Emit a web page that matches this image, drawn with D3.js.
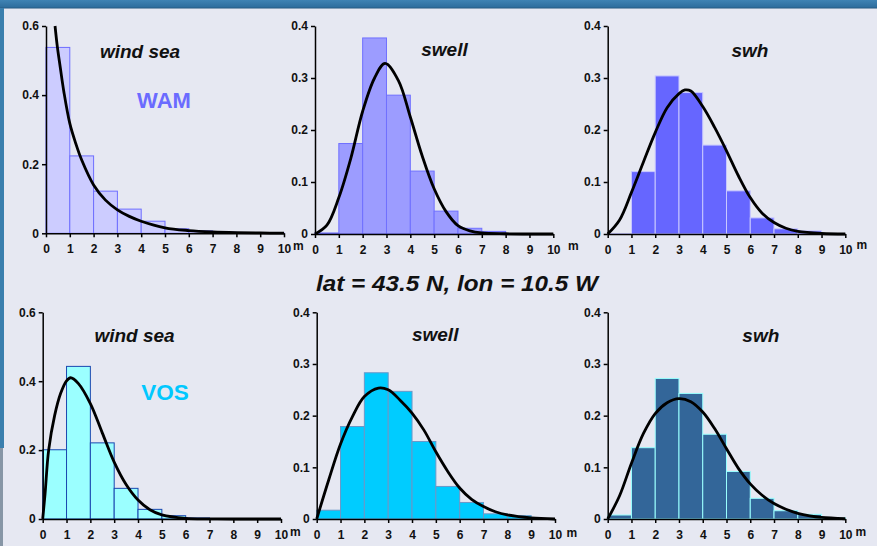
<!DOCTYPE html>
<html>
<head>
<meta charset="utf-8">
<script src="https://cdn.jsdelivr.net/npm/d3@7"></script>
<style>
  html, body { margin: 0; padding: 0; background: #e6e8f2; }
  svg { display: block; font-family: "Liberation Sans", Arial, sans-serif; }
  .axis text { font-weight: bold; font-size: 12px; fill: #111; }
  .axis path, .axis line { stroke: #000; stroke-width: 1.5px; }
  .fit { fill: none; stroke: #000; stroke-width: 2.8px; stroke-linejoin: round; }
  .ptitle { font-weight: bold; font-style: italic; font-size: 19px; fill: #111; }
  .unit { font-weight: bold; font-size: 12px; fill: #111; }
</style>
</head>
<body>
<svg id="chart" width="877" height="546"></svg>
<script>
// bins in metres
const binStarts = [0, 1, 2, 3, 4, 5, 6, 7, 8, 9];
const xTicks = [0, 1, 2, 3, 4, 5, 6, 7, 8, 9, 10];
const yTicksWind = [0, 0.2, 0.4, 0.6];
const yTicksOther = [0, 0.1, 0.2, 0.3, 0.4];

// WAM histograms
const windSeaWam = [0.538, 0.224, 0.122, 0.070, 0.035, 0.013, 0.007, 0.003, 0.002, 0.001];
const swellWam = [0.002, 0.174, 0.377, 0.267, 0.121, 0.044, 0.011, 0.005, 0, 0];
const swhWam = [0.001, 0.120, 0.304, 0.272, 0.171, 0.083, 0.031, 0.010, 0.006, 0];

// VOS histograms
const windSeaVos = [0.201, 0.443, 0.221, 0.089, 0.028, 0.0096, 0.003, 0.001, 0, 0];
const swellVos = [0.017, 0.179, 0.283, 0.247, 0.150, 0.063, 0.032, 0.010, 0.0065, 0];
const swhVos = [0.0077, 0.138, 0.272, 0.243, 0.164, 0.092, 0.040, 0.016, 0.009, 0.002];

// fitted curves
const fitWindSeaWamX = [0.38, 0.48, 0.6, 0.75, 1, 1.25, 1.5, 2, 2.5, 3, 3.5, 4, 5, 6, 7, 8, 9, 10];
const fitWindSeaWamY = [0.6, 0.538, 0.48, 0.41, 0.318, 0.26, 0.212, 0.14, 0.096, 0.068, 0.049, 0.035, 0.016, 0.008, 0.004, 0.002, 0.001, 0.0005];
const fitSwellWamX = [0, 0.5, 1, 1.5, 2, 2.5, 2.94, 3.5, 4, 4.5, 5, 5.5, 6, 6.5, 7, 8, 9, 10];
const fitSwellWamY = [0, 0.017, 0.07, 0.145, 0.236, 0.3, 0.328, 0.295, 0.225, 0.15, 0.087, 0.043, 0.016, 0.006, 0.002, 0.0005, 0, 0];
const fitSwhWamX = [0, 0.5, 1, 1.5, 2, 2.5, 3, 3.25, 3.5, 4, 4.5, 5, 5.5, 6, 6.5, 7, 7.5, 8, 9, 10];
const fitSwhWamY = [0, 0.027, 0.08, 0.138, 0.195, 0.243, 0.27, 0.277, 0.275, 0.245, 0.205, 0.16, 0.112, 0.07, 0.04, 0.022, 0.011, 0.005, 0.001, 0];

const fitWindSeaVosX = [0, 0.1, 0.25, 0.5, 0.75, 1, 1.17, 1.5, 2, 2.5, 3, 3.5, 4, 4.5, 5, 6, 7, 8, 10];
const fitWindSeaVosY = [0, 0.074, 0.2, 0.3, 0.364, 0.401, 0.41, 0.393, 0.335, 0.25, 0.165, 0.1, 0.055, 0.027, 0.012, 0.002, 0.0005, 0, 0];
const fitSwellVosX = [0, 0.5, 1, 1.5, 2, 2.59, 3, 3.5, 4, 4.5, 5, 5.5, 6, 6.5, 7, 7.5, 8, 9, 10];
const fitSwellVosY = [0, 0.075, 0.145, 0.198, 0.237, 0.2535, 0.25, 0.23, 0.205, 0.172, 0.13, 0.092, 0.06, 0.038, 0.024, 0.014, 0.008, 0.002, 0];
const fitSwhVosX = [0, 0.5, 1, 1.5, 2, 2.5, 3, 3.5, 4, 4.5, 5, 5.5, 6, 6.5, 7, 7.5, 8, 8.5, 9, 10];
const fitSwhVosY = [0, 0.045, 0.108, 0.165, 0.204, 0.225, 0.233, 0.227, 0.207, 0.175, 0.136, 0.098, 0.068, 0.046, 0.03, 0.019, 0.011, 0.006, 0.003, 0.0005];

const panelTitles = ['wind sea', 'swell', 'swh'];
const mainTitle = 'lat = 43.5 N, lon = 10.5 W';

const panels = [
  { left: 46, right: 284, bottom: 233.3, top: 26, yMax: 0.6, yTicks: yTicksWind, bars: windSeaWam, fx: fitWindSeaWamX, fy: fitWindSeaWamY,
    fill: '#ccccff', stroke: '#6e6eff', title: panelTitles[0], tx: 140, ty: 58, mx: 293, my: 250 },
  { left: 315, right: 553.3, bottom: 234, top: 26, yMax: 0.4, yTicks: yTicksOther, bars: swellWam, fx: fitSwellWamX, fy: fitSwellWamY,
    fill: '#9c9cff', stroke: '#7070ff', title: panelTitles[1], tx: 444.5, ty: 56, mx: 568, my: 250 },
  { left: 607.7, right: 845.3, bottom: 234, top: 26, yMax: 0.4, yTicks: yTicksOther, bars: swhWam, fx: fitSwhWamX, fy: fitSwhWamY,
    fill: '#6666ff', stroke: '#c8c8ff', title: panelTitles[2], tx: 750, ty: 56.5, mx: 856.5, my: 249 },
  { left: 42.7, right: 281, bottom: 519, top: 312.3, yMax: 0.6, yTicks: yTicksWind, bars: windSeaVos, fx: fitWindSeaVosX, fy: fitWindSeaVosY,
    fill: '#9bffff', stroke: '#1a48b0', title: panelTitles[0], tx: 134.5, ty: 341.7, mx: 290, my: 536 },
  { left: 316.7, right: 555, bottom: 519, top: 312.3, yMax: 0.4, yTicks: yTicksOther, bars: swellVos, fx: fitSwellVosX, fy: fitSwellVosY,
    fill: '#00ccff', stroke: '#6a98c8', title: panelTitles[1], tx: 435.2, ty: 341, mx: 566.5, my: 537 },
  { left: 607.7, right: 845.3, bottom: 519, top: 312.3, yMax: 0.4, yTicks: yTicksOther, bars: swhVos, fx: fitSwhVosX, fy: fitSwhVosY,
    fill: '#336699', stroke: '#99ffff', title: panelTitles[2], tx: 760.8, ty: 341.7, mx: 855.5, my: 535.5 }
];

const svg = d3.select('#chart');

// slide frame
const defs = svg.append('defs');
const grad = defs.append('linearGradient').attr('id', 'band').attr('x1', 0).attr('x2', 0).attr('y1', 0).attr('y2', 1);
grad.append('stop').attr('offset', '0%').attr('stop-color', '#3f83b4');
grad.append('stop').attr('offset', '80%').attr('stop-color', '#2f6f9f');
grad.append('stop').attr('offset', '100%').attr('stop-color', '#23567e');
svg.append('rect').attr('width', 877).attr('height', 546).attr('fill', '#e6e8f2');
svg.append('rect').attr('width', 877).attr('height', 8.5).attr('fill', 'url(#band)');
svg.append('rect').attr('x', 0).attr('y', 8).attr('width', 4).attr('height', 440).attr('fill', '#3a7fae');
svg.append('rect').attr('x', 0).attr('y', 448).attr('width', 3).attr('height', 98).attr('fill', '#8796a6');

panels.forEach(p => {
  const g = svg.append('g');
  const x = d3.scaleLinear().domain([0, 10]).range([p.left, p.right]);
  const y = d3.scaleLinear().domain([0, p.yMax]).range([p.bottom, p.top]);

  g.selectAll('.bar')
    .data(p.bars)
    .enter()
    .append('rect')
    .attr('class', 'bar')
    .attr('x', (d, i) => x(binStarts[i]))
    .attr('width', (d, i) => x(binStarts[i] + 1) - x(binStarts[i]))
    .attr('y', d => y(d))
    .attr('height', d => y(0) - y(d))
    .attr('fill', p.fill)
    .attr('stroke', p.stroke)
    .attr('stroke-width', 1);

  const line = d3.line()
    .curve(d3.curveCatmullRom.alpha(0.5))
    .x(d => x(d[0]))
    .y(d => Math.min(y(d[1]), p.bottom));

  g.append('path')
    .datum(p.fx.map((v, i) => [v, p.fy[i]]))
    .attr('class', 'fit')
    .attr('d', line);

  g.append('g')
    .attr('class', 'axis')
    .attr('transform', `translate(0,${p.bottom})`)
    .call(d3.axisBottom(x).tickValues(xTicks).tickSize(4).tickSizeOuter(0).tickPadding(7).tickFormat(d3.format('d')))
    .call(a => a.selectAll('text').attr('font-family', null).attr('font-size', null));

  g.append('g')
    .attr('class', 'axis')
    .attr('transform', `translate(${p.left},0)`)
    .call(d3.axisLeft(y).tickValues(p.yTicks).tickSize(4).tickSizeOuter(0).tickPadding(3)
      .tickFormat(d => d === 0 ? '0' : d3.format('.1f')(d)))
    .call(a => a.selectAll('text').attr('font-family', null).attr('font-size', null));

  g.append('text')
    .attr('class', 'unit')
    .attr('x', p.mx)
    .attr('y', p.my)
    .text('m');

  g.append('text')
    .attr('class', 'ptitle')
    .attr('x', p.tx)
    .attr('y', p.ty)
    .attr('text-anchor', 'middle')
    .text(p.title);
});

svg.append('text')
  .attr('x', 164)
  .attr('y', 107.5)
  .attr('text-anchor', 'middle')
  .attr('font-weight', 'bold')
  .attr('font-size', 22)
  .attr('fill', '#6b6bff')
  .text('WAM');

svg.append('text')
  .attr('x', 165)
  .attr('y', 399.5)
  .attr('text-anchor', 'middle')
  .attr('font-weight', 'bold')
  .attr('font-size', 22.5)
  .attr('fill', '#00c8ff')
  .text('VOS');

svg.append('text')
  .attr('x', 316)
  .attr('y', 291)
  .attr('font-weight', 'bold')
  .attr('font-style', 'italic')
  .attr('font-size', 21.5)
  .attr('textLength', 282)
  .attr('lengthAdjust', 'spacingAndGlyphs')
  .attr('fill', '#111')
  .text(mainTitle);
</script>
</body>
</html>
